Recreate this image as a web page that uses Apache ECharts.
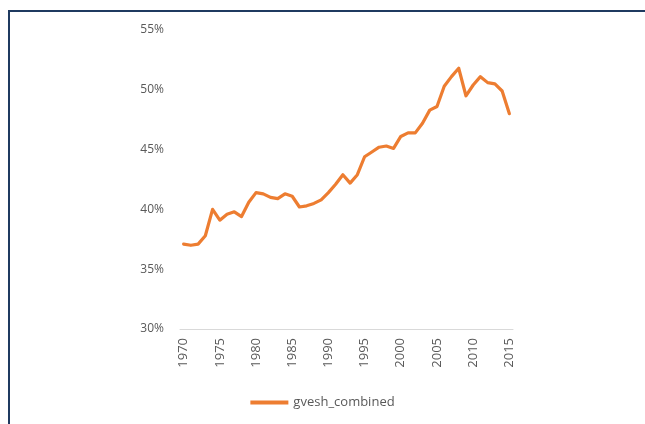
<!DOCTYPE html>
<html>
<head>
<meta charset="utf-8">
<title>gvesh_combined</title>
<script src="https://cdn.jsdelivr.net/npm/echarts@6/dist/echarts.min.js"></script>
<style>
html, body { margin: 0; padding: 0; background: #fff; }
#frame { position: absolute; left: 8px; top: 10px; width: 645px; height: 424px;
         border-top: 2px solid #1f3a60; border-left: 2px solid #1f3a60; }
#main { position: absolute; left: 0; top: 0; width: 645px; height: 424px; }
</style>
</head>
<body>
<div id="frame"></div>
<div id="main"></div>
<script type="text/javascript">
    var years = [];
    for (var y = 1970; y <= 2015; y++) years.push(String(y));

    // gvesh_combined, percent
    var gveshCombined = [
        37.1, 37.0, 37.1, 37.8, 40.0, 39.1, 39.6, 39.8, 39.4, 40.6,
        41.4, 41.3, 41.0, 40.9, 41.3, 41.1, 40.2, 40.3, 40.5, 40.8,
        41.4, 42.1, 42.9, 42.2, 42.9, 44.4, 44.8, 45.2, 45.3, 45.1,
        46.1, 46.4, 46.4, 47.2, 48.3, 48.6, 50.3, 51.1, 51.8, 49.5,
        50.4, 51.1, 50.6, 50.5, 49.9, 48.0
    ];

    var yTicks = { min: 30, max: 55, interval: 5 };

    var myChart = echarts.init(document.getElementById('main'));
    var option = {
        animation: false,
        grid: { left: 180, right: 132, top: 30, bottom: 95 },
        legend: {
            bottom: 10,
            left: 'center',
            itemWidth: 38,
            itemHeight: 4,
            icon: 'rect',
            textStyle: { color: '#595959', fontSize: 13, fontFamily: 'Open Sans' },
            data: ['gvesh_combined']
        },
        xAxis: {
            type: 'category',
            data: years,
            boundaryGap: true,
            axisLine: { lineStyle: { color: '#d9d9d9', width: 1 } },
            axisTick: { show: false },
            axisLabel: {
                rotate: 90,
                color: '#595959',
                fontSize: 13,
                fontFamily: 'Open Sans',
                margin: 9,
                interval: function (i, v) { return (parseInt(v) % 5) === 0; }
            }
        },
        yAxis: {
            type: 'value',
            min: yTicks.min,
            max: yTicks.max,
            interval: yTicks.interval,
            axisLine: { show: false },
            axisTick: { show: false },
            splitLine: { show: false },
            axisLabel: {
                color: '#595959',
                fontSize: 12,
                fontFamily: 'Open Sans',
                margin: 16,
                formatter: '{value}%'
            }
        },
        series: [{
            name: 'gvesh_combined',
            type: 'line',
            data: gveshCombined,
            symbol: 'none',
            itemStyle: { color: '#ed7d31' },
            lineStyle: { color: '#ed7d31', width: 3.2, join: 'round', cap: 'round' }
        }]
    };
    myChart.setOption(option);
</script>
</body>
</html>
